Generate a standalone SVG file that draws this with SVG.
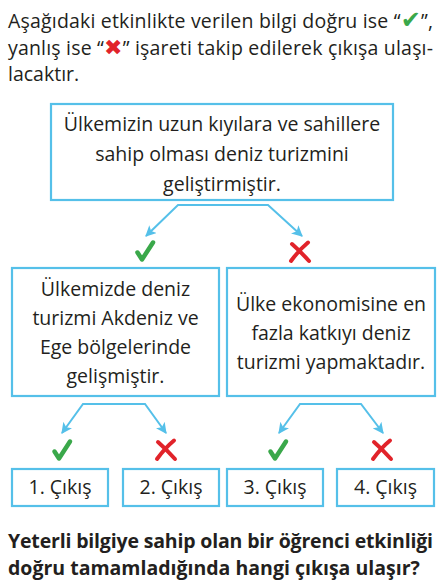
<svg xmlns="http://www.w3.org/2000/svg" width="446" height="587" viewBox="0 0 446 587">
<defs>
<marker id="ah" viewBox="0 0 10 10" refX="9" refY="5" markerWidth="11" markerHeight="11" orient="auto-start-reverse" markerUnits="userSpaceOnUse">
<path d="M0,0 L10,5 L0,10 L2.5,5 Z" fill="#55c0e9"/>
</marker>
<symbol id="chk" viewBox="0 0 20 22" overflow="visible">
<path d="M2.5,12.5 L7,19.5 L18,2.5" fill="none" stroke="#3aa84a" stroke-width="4.5" stroke-linecap="round" stroke-linejoin="round"/>
</symbol>
<symbol id="crs" viewBox="0 0 22 22" overflow="visible">
<path d="M3,3 Q11,10 20,20 M19,1.5 Q10,9 2,20" fill="none" stroke="#e1232a" stroke-width="4" stroke-linecap="round"/>
</symbol>
<style>
.t{font-family:"Open Sans","DejaVu Sans",sans-serif;fill:#231f20;font-size:19.5px}
.c{text-anchor:middle}
.b{font-weight:bold}
.box{fill:#fff;stroke:#55c0e9;stroke-width:2.2}
.con{fill:none;stroke:#55c0e9;stroke-width:2}
.ok{font-family:"DejaVu Sans",sans-serif;fill:#3aa84a;font-size:24px}
.no{font-family:"DejaVu Sans",sans-serif;fill:#e1232a;font-size:22px}
</style>
</defs>
<rect width="446" height="587" fill="#fff"/>
<g id="intro">
<text class="t" x="8" y="28" textLength="425" lengthAdjust="spacing">Aşağıdaki etkinlikte verilen bilgi doğru ise “<tspan class="ok">✔</tspan>”,</text>
<text class="t" x="8" y="55" textLength="425" lengthAdjust="spacing">yanlış ise “<tspan class="no">✖</tspan>” işareti takip edilerek çıkışa ulaşı-</text>
<text class="t" x="8" y="81">lacaktır.</text>
</g>
<g id="connectors">
<path class="con" d="M146,236 L178,205 H268 L302,236" marker-start="url(#ah)" marker-end="url(#ah)"/>
<path class="con" d="M62,433 L83,404 H145 L166,433" marker-start="url(#ah)" marker-end="url(#ah)"/>
<path class="con" d="M279,433 L300,404 H361 L383,433" marker-start="url(#ah)" marker-end="url(#ah)"/>
</g>
<g id="root">
<rect class="box" x="51" y="104" width="342" height="96"/>
<text class="t c" x="222" y="131">Ülkemizin uzun kıyılara ve sahillere</text>
<text class="t c" x="222" y="161">sahip olması deniz turizmini</text>
<text class="t c" x="222" y="191">geliştirmiştir.</text>
</g>
<g id="mark-top-yes"><use href="#chk" x="135" y="240" width="20" height="22"/></g>
<g id="mark-top-no"><use href="#crs" x="289" y="241" width="22" height="22"/></g>
<g id="left">
<rect class="box" x="12" y="268" width="207" height="128"/>
<text class="t c" x="115.5" y="296">Ülkemizde deniz</text>
<text class="t c" x="115.5" y="325">turizmi Akdeniz ve</text>
<text class="t c" x="115.5" y="354">Ege bölgelerinde</text>
<text class="t c" x="115.5" y="383">gelişmiştir.</text>
</g>
<g id="right">
<rect class="box" x="227" y="268" width="208" height="128"/>
<text class="t c" x="331" y="311">Ülke ekonomisine en</text>
<text class="t c" x="331" y="340">fazla katkıyı deniz</text>
<text class="t c" x="331" y="369">turizmi yapmaktadır.</text>
</g>
<g id="mark-l-yes"><use href="#chk" x="52" y="439" width="20" height="22"/></g>
<g id="mark-l-no"><use href="#crs" x="155" y="439" width="22" height="22"/></g>
<g id="mark-r-yes"><use href="#chk" x="268" y="439" width="20" height="22"/></g>
<g id="mark-r-no"><use href="#crs" x="371" y="439" width="22" height="22"/></g>
<g id="exit1"><rect class="box" x="12" y="469" width="96" height="37"/><text class="t c" x="60" y="494">1. Çıkış</text></g>
<g id="exit2"><rect class="box" x="123" y="469" width="96" height="37"/><text class="t c" x="171" y="494">2. Çıkış</text></g>
<g id="exit3"><rect class="box" x="227" y="469" width="96" height="37"/><text class="t c" x="275" y="494">3. Çıkış</text></g>
<g id="exit4"><rect class="box" x="337" y="469" width="97" height="37"/><text class="t c" x="385.5" y="494">4. Çıkış</text></g>
<g id="question">
<text class="t b" x="8" y="548" textLength="425" lengthAdjust="spacing">Yeterli bilgiye sahip olan bir öğrenci etkinliği</text>
<text class="t b" x="8" y="575">doğru tamamladığında hangi çıkışa ulaşır?</text>
</g>
</svg>
